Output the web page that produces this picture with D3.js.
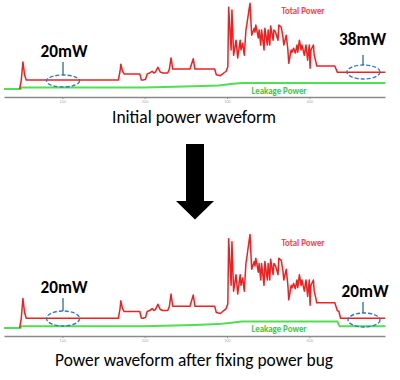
<!DOCTYPE html>
<html><head><meta charset="utf-8">
<script src="https://cdn.jsdelivr.net/npm/d3@7/dist/d3.min.js"></script>
<style>html,body{margin:0;padding:0;background:#fff;}svg{display:block;}</style>
</head><body><svg id="c" width="400" height="380"></svg>
<script>
// ---- data (time units, power in mW) ----
const tickValues = [100, 200, 300, 400];
const titles = ["Initial power waveform", "Power waveform after fixing power bug"];
const seriesLabels = ["Total Power", "Leakage Power"];
const annotationsInitial = ["20mW", "38mW"];
const annotationsFixed = ["20mW", "20mW"];

// shared head of total-power trace
const totalTime = [48,50,52,54,56,168,170,171,173,175,194,196,198,201,203,206,209,211,213,216,219,222,228,230,232,234,237,255,259,261,264,285,287,292,296,299,301,
 302,305,306,308,311,313,316,317,319,321,323,324,327,328,329,330,333,334,335,338,339,341,342,345,346,349,350,352,353,356,357,359,362,363,366,368,369,372,374,375,378,379,381,383,385,386,388,390,391,394,395,396,398,400,401,402,405,406,408,409,413,431];
const totalValue = [0,20,61,32,20,20,40,56,40,34,34,20,20,22,34,36,40,36,38,49,38,36,36,45,70,45,45,45,68,45,45,45,32,30,36,40,50,
 184,88,178,76,110,70,110,88,103,76,133,144,182,193,155,121,137,128,144,115,133,99,133,88,137,99,133,99,142,110,133,128,110,144,139,117,99,121,88,58,88,83,92,81,99,83,110,88,99,76,88,99,65,99,47,88,99,76,61,52,52,52];
// tails after t = 431
const tailTimeInitial = [434, 492];
const tailTotalInitial = [38, 38];
const tailTimeFixed = [434, 436, 438, 492];
const tailTotalFixed = [36, 34, 20, 20];

const leakTime = [29,49,50,200,260,290,305,318,434];
const leakValue = [0,0,3.4,3.4,6,8,11,13.5,13.5];
const leakTailTimeInitial = [492];
const leakTailInitial = [13.5];
const leakTailTimeFixed = [437, 492];
const leakTailFixed = [3.4, 3.4];

// ---- drawing ----
const svg = d3.select("#c");
svg.append("rect").attr("width",400).attr("height",380).attr("fill","#fff");

const x = d3.scaleLinear().domain([29, 492]).range([4, 385]);

const panels = [
  {axisY: 97, yRange: [89, 0.2], title: titles[0], titleY: 123, titleW: 164,
   tT: totalTime.concat(tailTimeInitial), tV: totalValue.concat(tailTotalInitial),
   lT: leakTime.concat(leakTailTimeInitial), lV: leakValue.concat(leakTailInitial),
   ann: annotationsInitial,
   totalLblY: 14, leakLblY: 94,
   marks: [{tx:64, ty:57, lx:63, l1:62, l2:75, ex:63, ey:81, rx:16.5, ry:6},
           {tx:362.5, ty:45, lx:363, l1:55, l2:65, ex:363.5, ey:72, rx:16.5, ry:7}]},
  {axisY: 336, yRange: [328, 231], title: titles[1], titleY: 366, titleW: 278,
   tT: totalTime.concat(tailTimeFixed), tV: totalValue.concat(tailTotalFixed),
   lT: leakTime.concat(leakTailTimeFixed), lV: leakValue.concat(leakTailFixed),
   ann: annotationsFixed,
   totalLblY: 246, leakLblY: 332,
   marks: [{tx:64, ty:293, lx:63, l1:298, l2:311, ex:63, ey:318.5, rx:16.5, ry:7.5},
           {tx:365, ty:297, lx:363, l1:302, l2:313, ex:364, ey:320, rx:16, ry:7}]}
];

const font = "Carlito, Calibri, Lato, 'Open Sans', sans-serif";

panels.forEach(p => {
  const y = d3.scaleLinear().domain([0, 200]).range(p.yRange);
  const g = svg.append("g");

  // axis
  const ax = g.append("g").attr("transform", `translate(0,${p.axisY})`)
    .call(d3.axisBottom(x).tickValues(tickValues).tickSize(2).tickSizeOuter(0).tickPadding(1));
  ax.select(".domain").attr("stroke","#8a8a8a").attr("stroke-width",1.3);
  ax.selectAll(".tick line").attr("stroke","#8a8a8a");
  ax.selectAll(".tick text").attr("fill","#aaa").attr("font-size",4).attr("font-family","sans-serif");

  const line = d3.line().x(d => x(d[0])).y(d => y(d[1]));

  // leakage
  g.append("path").datum(p.lT.map((t,i)=>[t,p.lV[i]]))
    .attr("d", line).attr("fill","none").attr("stroke","#4ee04e").attr("stroke-width",2);
  // total
  g.append("path").datum(p.tT.map((t,i)=>[t,p.tV[i]]))
    .attr("d", line).attr("fill","none").attr("stroke","#f02020").attr("stroke-width",1.5)
    .attr("stroke-linejoin","round");

  g.append("text").attr("x",303).attr("y",p.totalLblY).attr("text-anchor","middle")
    .attr("font-family",font).attr("font-weight","bold").attr("font-size",9)
    .attr("textLength",43).attr("lengthAdjust","spacingAndGlyphs")
    .attr("fill","#f04848").text(seriesLabels[0]);
  g.append("text").attr("x",279).attr("y",p.leakLblY).attr("text-anchor","middle")
    .attr("font-family",font).attr("font-weight","bold").attr("font-size",10)
    .attr("textLength",55).attr("lengthAdjust","spacingAndGlyphs")
    .attr("fill","#44c444").text(seriesLabels[1]);

  p.marks.forEach((m,i) => {
    g.append("ellipse").attr("cx",m.ex).attr("cy",m.ey).attr("rx",m.rx).attr("ry",m.ry)
      .attr("fill","none").attr("stroke","#2e7bc4").attr("stroke-width",1.4).attr("stroke-dasharray","4,2");
    g.append("line").attr("x1",m.lx).attr("x2",m.lx).attr("y1",m.l1).attr("y2",m.l2)
      .attr("stroke","#1f5f86").attr("stroke-width",1.2);
    g.append("text").attr("x",m.tx).attr("y",m.ty).attr("text-anchor","middle")
      .attr("font-family",font).attr("font-weight","bold").attr("font-size",17.5)
      .attr("textLength",47).attr("lengthAdjust","spacingAndGlyphs")
      .attr("fill","#000").text(p.ann[i]);
  });

  svg.append("text").attr("x",194).attr("y",p.titleY).attr("text-anchor","middle")
    .attr("font-family",font).attr("font-size",17.5)
    .attr("textLength",p.titleW).attr("lengthAdjust","spacingAndGlyphs")
    .attr("fill","#000").text(p.title);
});

// big arrow
svg.append("path")
  .attr("d","M186,144 L204,144 L204,201 L214,201 L195,219.5 L176,201 L186,201 Z")
  .attr("fill","#000");
</script></body></html>
